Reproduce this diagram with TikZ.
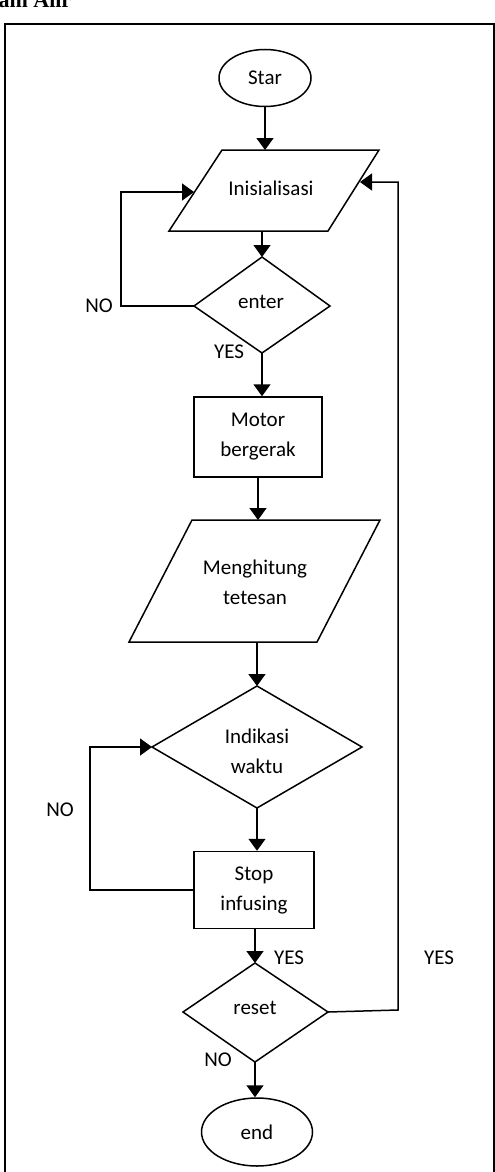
\documentclass[tikz,border=0pt]{standalone}
\usepackage{fontspec}
\setmainfont{Carlito}
\newfontfamily\titlefont{Liberation Serif}
\usetikzlibrary{arrows.meta,shapes.geometric}
\begin{document}
\begin{tikzpicture}[x=1pt,y=-1pt,line width=1.5pt,
  arr/.style={-{Triangle[width=17pt,length=12pt]}},
  lbl/.style={font=\fontsize{21}{30}\selectfont,inner sep=0pt,align=center},
  boxnode/.style={draw,font=\fontsize{21}{30}\selectfont,inner sep=0pt,align=center},
  ovalnode/.style={draw,ellipse,font=\fontsize{21}{30}\selectfont,inner sep=0pt}]
\useasboundingbox (0,0) rectangle (495,1172);
\fill[white] (0,0) rectangle (495,1172);
% cropped heading
\node[anchor=base east,font=\titlefont\bfseries\fontsize{22}{24}\selectfont,inner sep=0pt] (title) at (72,8) {am Alir};
% frame
\draw[line width=1.8pt] (5,1200) -- (5,24) -- (494,24) -- (494,1200);

% Start
\node[ovalnode,minimum width=92pt,minimum height=57pt] (start) at (265,78) {Star};

% Inisialisasi parallelogram
\coordinate (p1a) at (222,150); \coordinate (p1b) at (379,150);
\coordinate (p1c) at (328,231); \coordinate (p1d) at (169,231);
\draw (p1a) -- (p1b) -- (p1c) -- (p1d) -- cycle;
\node[lbl] (ini) at (271,188) {Inisialisasi};
\coordinate (iniT) at (265,150); \coordinate (iniB) at (262,231);
\coordinate (iniL) at (194,192); \coordinate (iniR) at (360,182);

% enter diamond
\coordinate (d1t) at (262,257); \coordinate (d1l) at (194,306);
\coordinate (d1r) at (330,306); \coordinate (d1b) at (262,353);
\draw (d1t) -- (d1r) -- (d1b) -- (d1l) -- cycle;
\node[lbl] (enter) at (261,302) {enter};

% Motor box
\node[boxnode,minimum width=128pt,minimum height=80pt] (motor) at (258,437) {Motor\\bergerak};

% Menghitung parallelogram
\coordinate (p2a) at (192,520); \coordinate (p2b) at (380,520);
\coordinate (p2c) at (317,642); \coordinate (p2d) at (129,642);
\draw (p2a) -- (p2b) -- (p2c) -- (p2d) -- cycle;
\node[lbl] (hit) at (255,582) {Menghitung\\tetesan};
\coordinate (p2T) at (258,520); \coordinate (p2B) at (257,642);

% Indikasi diamond
\coordinate (d2t) at (257,686); \coordinate (d2l) at (152,747);
\coordinate (d2r) at (362,747); \coordinate (d2b) at (257,808);
\draw (d2t) -- (d2r) -- (d2b) -- (d2l) -- cycle;
\node[lbl] (ind) at (257,751) {Indikasi\\waktu};

% Stop box
\node[boxnode,minimum width=120pt,minimum height=77pt] (stop) at (254,890) {Stop\\infusing};

% reset diamond
\coordinate (d3t) at (255,963); \coordinate (d3l) at (183,1012);
\coordinate (d3r) at (328,1012); \coordinate (d3b) at (255,1062);
\draw (d3t) -- (d3r) -- (d3b) -- (d3l) -- cycle;
\node[lbl] (reset) at (255,1008) {reset};

% End
\node[ovalnode,minimum width=111pt,minimum height=68pt] (end) at (257,1132) {end};

% loop corners
\coordinate (c1) at (121,306); \coordinate (c2) at (121,192);
\coordinate (c3) at (90,890); \coordinate (c4) at (90,747);
\coordinate (c5) at (398,1010); \coordinate (c6) at (398,182);

% connectors
\draw[arr] (start.south) -- (iniT);
\draw[arr] (iniB) -- (d1t);
\draw[arr] (d1l) -- (c1) -- (c2) -- (iniL);
\draw[arr] (d1b) -- (motor.north -| d1b);
\draw[arr] (motor.south) -- (p2T);
\draw[arr] (p2B) -- (d2t);
\draw[arr] (d2b) -- (stop.north -| d2b);
\draw[arr] (stop.west) -- (c3) -- (c4) -- (d2l);
\draw[arr] (stop.south -| d3t) -- (d3t);
\draw[arr] (d3r) -- (c5) -- (c6) -- (iniR);
\draw[arr] (d3b) -- (end.north -| d3b);

% labels
\node[lbl] (no1) at (99,306) {NO};
\node[lbl] (yes1) at (229,352) {YES};
\node[lbl] (no2) at (60,810) {NO};
\node[lbl] (yes2) at (289,958) {YES};
\node[lbl] (yes3) at (439,958) {YES};
\node[lbl] (no3) at (218,1060) {NO};
\end{tikzpicture}
\end{document}
